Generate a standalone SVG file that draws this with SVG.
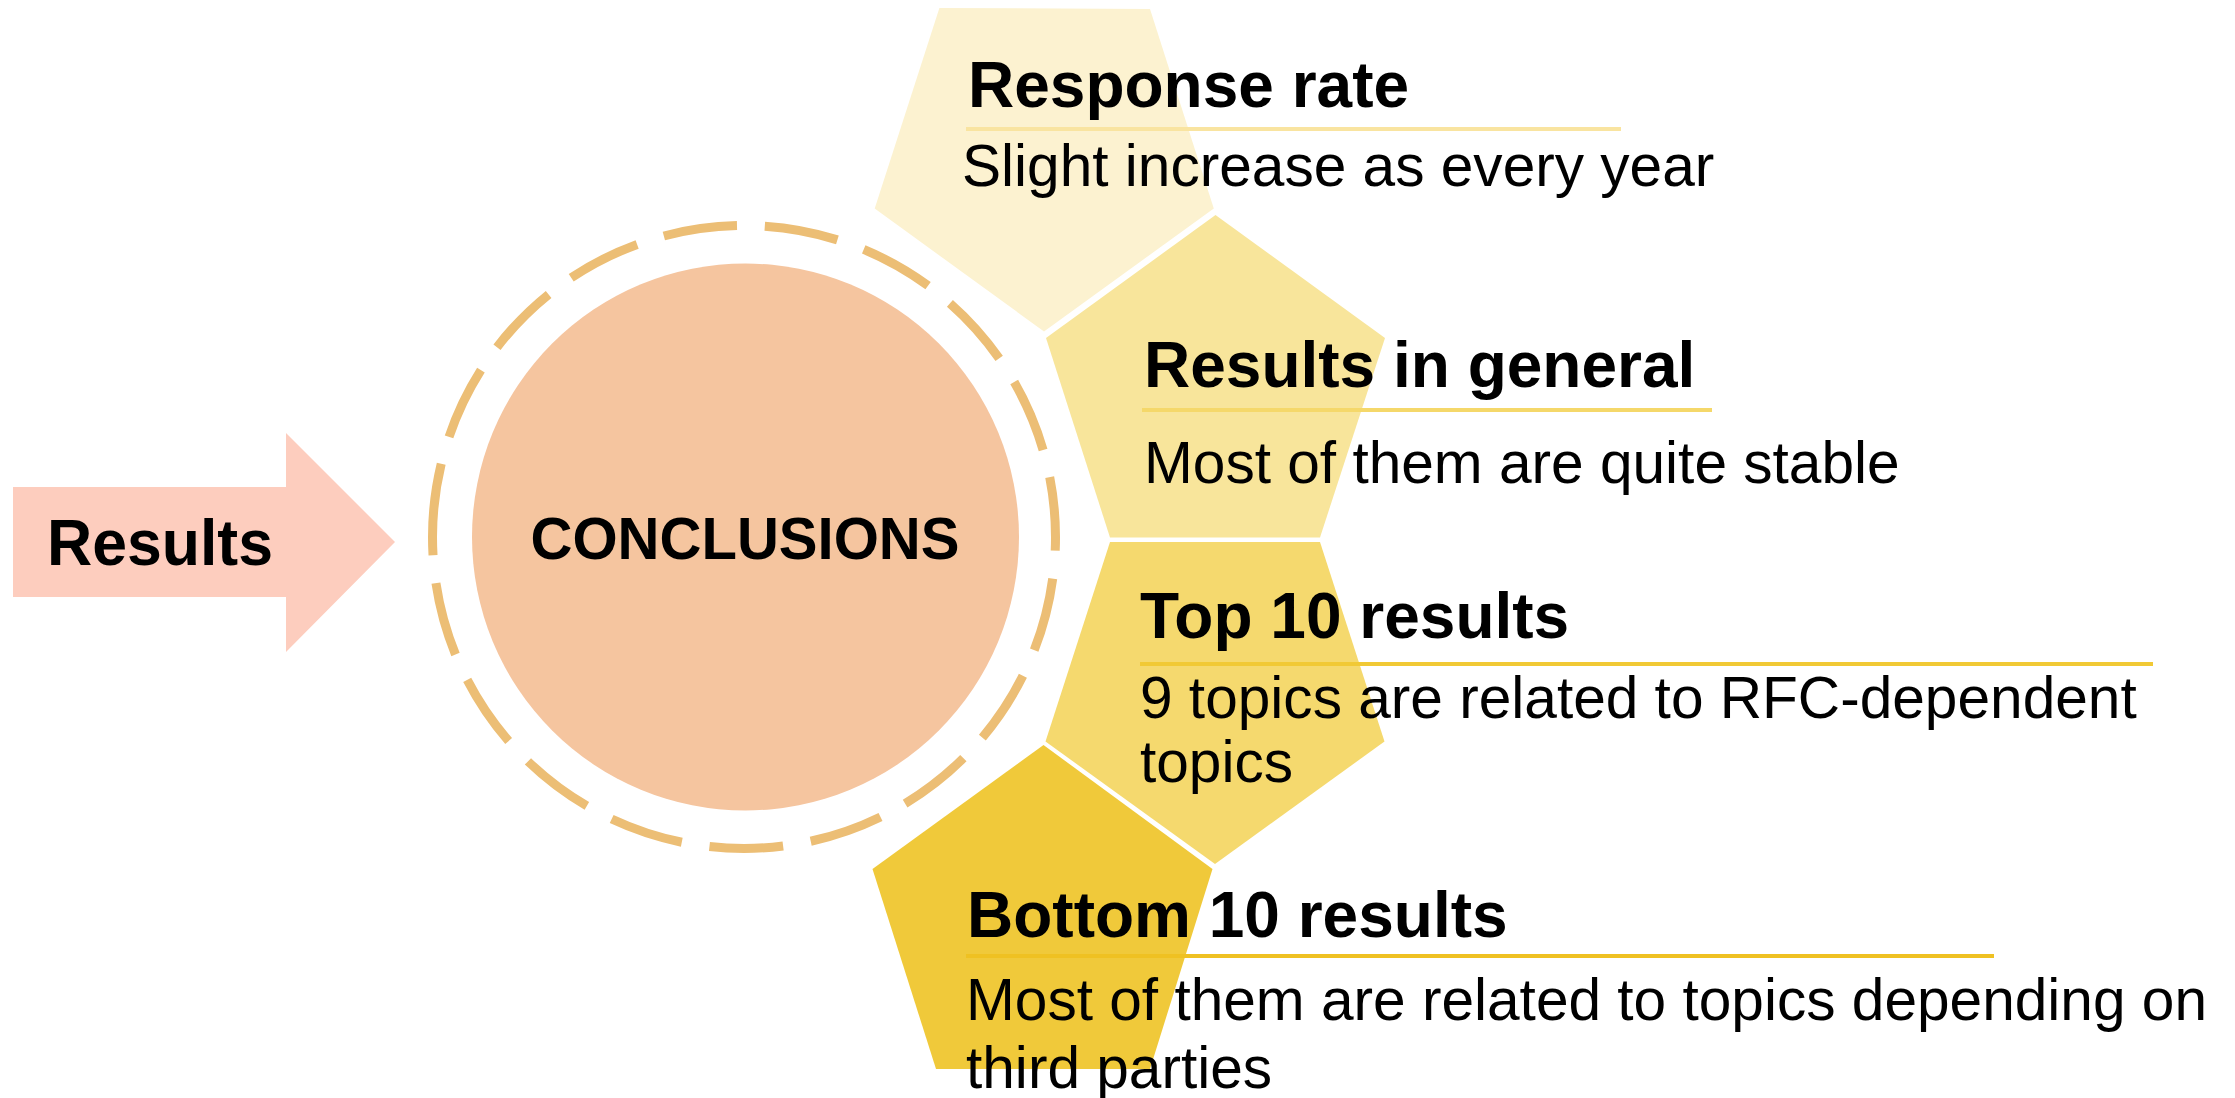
<svg xmlns="http://www.w3.org/2000/svg" width="2235" height="1098" viewBox="0 0 2235 1098">
  <style>
    .bold { font-family: "Liberation Sans", Arial, sans-serif; font-weight: bold; fill: #000000; }
    .head { font-family: "Liberation Sans", Arial, sans-serif; font-weight: bold; font-size: 64px; fill: #000000; }
    .body { font-family: "Liberation Sans", Arial, sans-serif; font-size: 58.6px; fill: #000000; }
    .pent { stroke: none; }
    .rule { stroke-width: 4; fill: none; }
  </style>
  <rect x="0" y="0" width="2235" height="1098" fill="#FFFFFF"/>

  <g id="connectors"></g>

  <g id="node-results">
    <polygon points="13,487 286,487 286,433 395,542 286,652 286,597 13,597" fill="#FDCDBE"/>
    <text class="bold" x="47" y="565" font-size="65" textLength="226" lengthAdjust="spacingAndGlyphs">Results</text>
  </g>

  <g id="node-conclusions">
    <path d="M 432.5 537 A 311.5 311.5 0 0 1 1055.5 537 A 311.5 311.5 0 0 1 432.5 537 Z" fill="none" stroke="#ECBE75" stroke-width="9" stroke-dasharray="74 28"/>
    <circle cx="745.5" cy="537" r="273.5" fill="#F5C59F"/>
    <text class="bold" x="745" y="559" font-size="60" text-anchor="middle" textLength="429" lengthAdjust="spacingAndGlyphs">CONCLUSIONS</text>
  </g>

  <g id="node-response-rate">
    <polygon class="pent" points="1044,331.5 874.7,208.5 939.4,8 1150,9 1213.8,208.5" fill="#FCF2D0"/>
    <line class="rule" x1="966" y1="129" x2="1621" y2="129" stroke="#F9E4A0"/>
    <text class="head" x="968" y="107">Response rate</text>
    <text class="body" x="962" y="186">Slight increase as every year</text>
  </g>

  <g id="node-results-general">
    <polygon class="pent" points="1215.5,215 1385,338 1320,537.5 1110,537.5 1046,338" fill="#F8E59B"/>
    <line class="rule" x1="1142" y1="410" x2="1712" y2="410" stroke="#F5D86A"/>
    <text class="head" x="1144" y="387">Results in general</text>
    <text class="body" x="1144" y="483">Most of them are quite stable</text>
  </g>

  <g id="node-top10">
    <polygon class="pent" points="1110,542 1320,542 1384.5,741.5 1215,864 1045.5,741.5" fill="#F5D96E"/>
    <line class="rule" x1="1140" y1="664" x2="2153" y2="664" stroke="#F1C935"/>
    <text class="head" x="1140" y="638">Top 10 results</text>
    <text class="body" x="1140" y="718">9 topics are related to RFC-dependent</text>
    <text class="body" x="1140" y="782">topics</text>
  </g>

  <g id="node-bottom10">
    <polygon class="pent" points="1043.5,745 1212.5,869 1150,1069 936,1069 872.5,869" fill="#F0C93A"/>
    <line class="rule" x1="966" y1="956" x2="1994" y2="956" stroke="#EFC122"/>
    <text class="head" x="967" y="937">Bottom 10 results</text>
    <text class="body" x="966" y="1020">Most of them are related to topics depending on</text>
    <text class="body" x="966" y="1088">third parties</text>
  </g>
</svg>
